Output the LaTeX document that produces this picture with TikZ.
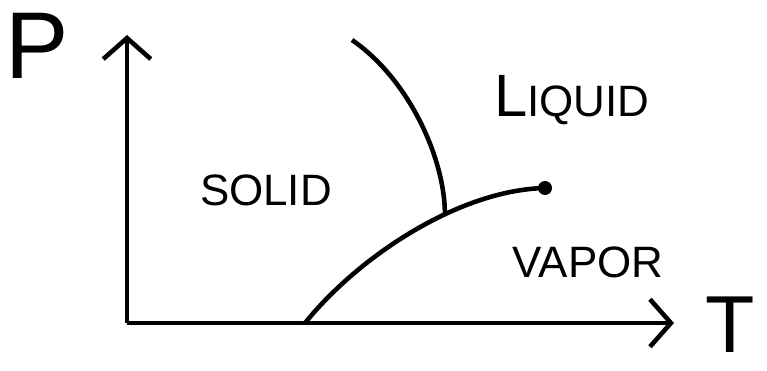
\documentclass[tikz,border=0pt]{standalone}
\usepackage{fontspec}
\setmainfont{Liberation Sans}
\usetikzlibrary{arrows.meta}

\begin{document}
\begin{tikzpicture}[x=0.02cm,y=-0.02cm,line width=2.6pt,
  barb/.style={-{Straight Barb[length=0.42cm,width=0.95cm,line width=2.6pt]}},
  phase/.style={font=\fontsize{25}{25}\selectfont}]
\useasboundingbox (0,0) rectangle (767,371);
\coordinate (O) at (127,323);
\coordinate (Ptip) at (127,35);
\coordinate (Ttip) at (674,323);
\coordinate (subl) at (305,323);
\coordinate (crit) at (545,188);
\coordinate (melt) at (352,40);
% axes
\draw[barb](O)--(Ptip);
\draw[barb](O)--(Ttip);
\node[font=\fontsize{54}{54}\selectfont] (P) at (37,46) {P};
\node[font=\fontsize{46}{46}\selectfont,inner sep=0pt] (T) at (730,325) {T};
% coexistence curves
\draw(subl)..controls(360,255)and(460,190)..(crit)coordinate[pos=0.62](triple);
\draw(melt)..controls(410,80)and(445,160)..(triple);
\fill(crit)circle(7);
% phases
\node[phase] (solid) at (266,190) {SOLID};
\node[phase] (liquid) at (572,100) {{\fontsize{34}{34}\selectfont L}IQUID};
\node[phase] (vapor) at (588,262) {VAPOR};
\end{tikzpicture}
\end{document}
